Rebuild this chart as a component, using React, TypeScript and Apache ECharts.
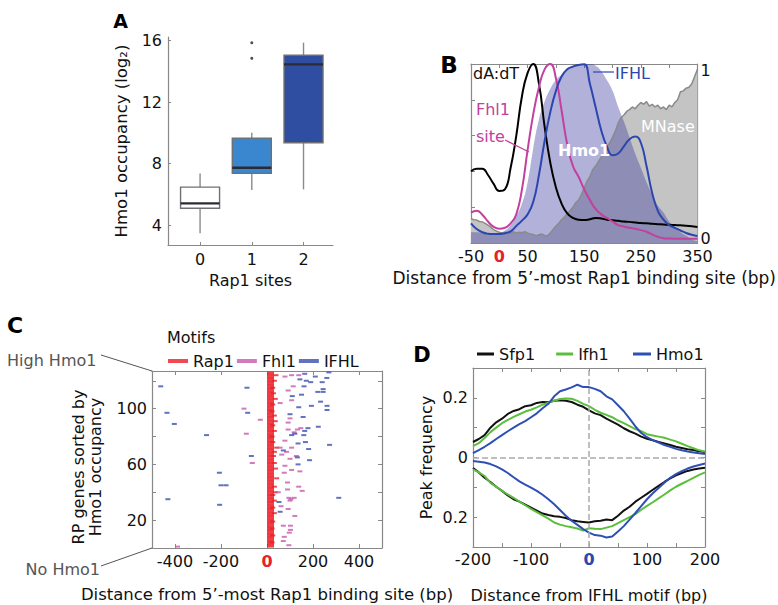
import React, { useEffect, useRef } from 'react';
import * as echarts from 'echarts';

const F = 'DejaVu Sans';

// ---------- Panel A: box plot ----------
const rap1SiteCounts = [0, 1, 2];
const boxMin = [3.46, 6.28, 6.32];
const boxQ1 = [5.09, 7.36, 9.36];
const boxMedian = [5.41, 7.73, 14.46];
const boxQ3 = [6.47, 9.66, 15.05];
const boxMax = [7.36, 10.01, 15.87];
const boxOutliers = [[1, 15.87], [1, 14.85]];
const boxColors = ['#ffffff', '#3b87cf', '#2f4ea2'];
const aYTicks = [4, 8, 12, 16];

// ---------- Panel B: profiles ----------
const bPos = [-50, -40, -30, -20, -10, 0, 10, 20, 30, 40, 50, 60, 70, 80, 90, 100, 110, 120, 130, 140, 150, 160, 170, 180, 190, 200, 210, 220, 230, 240, 250, 260, 270, 280, 290, 300, 310, 320, 330, 340, 350];
const dAdT = [0.40, 0.415, 0.415, 0.38, 0.33, 0.29, 0.30, 0.42, 0.60, 0.82, 0.95, 1.0, 0.89, 0.65, 0.45, 0.31, 0.22, 0.165, 0.14, 0.13, 0.128, 0.133, 0.14, 0.137, 0.13, 0.127, 0.124, 0.12, 0.118, 0.115, 0.112, 0.11, 0.107, 0.105, 0.103, 0.102, 0.1, 0.099, 0.096, 0.093, 0.09];
const fhl1Site = [0.17, 0.18, 0.158, 0.12, 0.09, 0.08, 0.085, 0.11, 0.16, 0.30, 0.52, 0.72, 0.87, 0.97, 1.0, 0.92, 0.74, 0.55, 0.43, 0.37, 0.30, 0.24, 0.19, 0.16, 0.14, 0.12, 0.10, 0.092, 0.085, 0.08, 0.072, 0.063, 0.048, 0.034, 0.027, 0.025, 0.024, 0.024, 0.024, 0.024, 0.024];
const ifhlSite = [0.11, 0.078, 0.06, 0.052, 0.05, 0.05, 0.055, 0.065, 0.095, 0.125, 0.16, 0.23, 0.38, 0.57, 0.73, 0.85, 0.93, 0.97, 0.985, 0.995, 0.998, 0.89, 0.76, 0.63, 0.54, 0.49, 0.5, 0.54, 0.58, 0.595, 0.56, 0.43, 0.28, 0.18, 0.13, 0.1, 0.085, 0.07, 0.056, 0.046, 0.039];
const hmo1Occupancy = [0.06, 0.06, 0.055, 0.05, 0.05, 0.055, 0.07, 0.1, 0.15, 0.22, 0.34, 0.53, 0.69, 0.79, 0.86, 0.91, 0.94, 0.97, 0.99, 1.0, 1.0, 1.0, 0.99, 0.96, 0.91, 0.85, 0.76, 0.68, 0.59, 0.5, 0.42, 0.34, 0.27, 0.21, 0.17, 0.12, 0.09, 0.06, 0.04, 0.02, 0.01];
const mnaseSignal = [
  [-50, 0.135], [-45, 0.13], [-40, 0.128], [-35, 0.12], [-30, 0.118], [-25, 0.11], [-20, 0.1], [-15, 0.088], [-10, 0.075], [-5, 0.066],
  [0, 0.06], [5, 0.055], [10, 0.061], [15, 0.052], [20, 0.058], [25, 0.063], [30, 0.055], [35, 0.06], [40, 0.057], [45, 0.063],
  [50, 0.055], [55, 0.05], [60, 0.048], [65, 0.04], [70, 0.046], [75, 0.05], [80, 0.042], [85, 0.04], [90, 0.055], [95, 0.075],
  [100, 0.095], [105, 0.11], [110, 0.13], [115, 0.145], [120, 0.162], [125, 0.18], [130, 0.2], [135, 0.225], [140, 0.24], [145, 0.27],
  [150, 0.31], [155, 0.345], [160, 0.37], [165, 0.41], [170, 0.43], [175, 0.455], [180, 0.48], [185, 0.5], [190, 0.535], [195, 0.56],
  [200, 0.59], [205, 0.625], [210, 0.67], [215, 0.7], [220, 0.715], [225, 0.735], [230, 0.745], [235, 0.76], [240, 0.75], [245, 0.77],
  [250, 0.785], [255, 0.775], [260, 0.79], [265, 0.765], [270, 0.775], [275, 0.76], [280, 0.77], [285, 0.75], [290, 0.76], [295, 0.745],
  [300, 0.77], [305, 0.76], [310, 0.785], [315, 0.8], [320, 0.845], [325, 0.85], [330, 0.865], [335, 0.87], [340, 0.89], [345, 0.93], [350, 0.97]
];
const bXLabels = [-50, 0, 50, 150, 250, 350];

// ---------- Panel C: motif map ----------
const rpGeneCount = 126;
const rap1FirstSite = 0;
const rap1Extra = [[39, 124], [32, 120], [25, 115], [28, 111], [36, 107], [25, 103], [22, 98], [32, 95], [36, 91], [25, 88], [32, 84], [22, 80], [25, 76], [42, 72], [32, 69], [28, 66], [32, 61], [37, 57], [42, 50], [32, 44], [36, 40], [25, 38], [32, 34], [25, 29], [32, 25], [25, 19], [22, 14], [25, 9], [22, 4]];
const fhl1Motifs = [[-100, 100], [-29, 92], [-90, 82], [-64, 61], [-389, 1], [78, 123], [107, 124], [138, 124], [114, 116], [92, 113], [107, 106], [57, 104], [100, 93], [92, 90], [147, 86], [132, 85], [92, 85], [118, 83], [78, 77], [57, 72], [107, 72], [85, 69], [128, 66], [100, 64], [64, 67], [78, 59], [107, 56], [143, 55], [75, 54], [89, 47], [138, 44], [89, 42], [153, 41], [49, 40], [95, 36], [118, 36], [104, 35], [100, 34], [61, 30], [92, 28], [121, 23], [71, 16], [102, 16], [102, 13], [97, 11], [75, 8], [71, 5], [95, 2]];
const ifhlMotifs = [[-462, 116], [-87, 115], [-435, 97], [-84, 97], [-403, 89], [-263, 81], [-68, 66], [-207, 54], [-200, 45], [-178, 45], [-431, 35], [-206, 31], [164, 125], [269, 126], [143, 121], [171, 120], [210, 123], [260, 122], [240, 119], [190, 119], [161, 116], [221, 112], [244, 112], [244, 114], [110, 109], [150, 110], [233, 105], [261, 102], [261, 99], [138, 101], [193, 102], [100, 96], [157, 94], [178, 86], [223, 87], [164, 84], [107, 81], [121, 82], [160, 81], [135, 75], [167, 76], [272, 74], [71, 70], [181, 71], [185, 63], [132, 65], [135, 60], [312, 36], [52, 33], [57, 26]];
const cXTicks = [-400, -200, 0, 200, 400];
const cYLabels = [20, 60, 100];

// ---------- Panel D: peak frequency ----------
const dPos = [-200, -190, -180, -170, -160, -150, -140, -130, -120, -110, -100, -90, -80, -70, -60, -50, -40, -30, -20, -10, 0, 10, 20, 30, 40, 50, 60, 70, 80, 90, 100, 110, 120, 130, 140, 150, 160, 170, 180, 190, 200];
const sfp1Up = [0.052, 0.062, 0.075, 0.1, 0.118, 0.13, 0.146, 0.156, 0.162, 0.172, 0.175, 0.183, 0.186, 0.185, 0.19, 0.192, 0.19, 0.186, 0.177, 0.17, 0.158, 0.148, 0.142, 0.13, 0.12, 0.11, 0.098, 0.088, 0.08, 0.07, 0.063, 0.058, 0.052, 0.047, 0.042, 0.036, 0.032, 0.028, 0.025, 0.021, 0.018];
const ifh1Up = [0.038, 0.048, 0.065, 0.085, 0.1, 0.115, 0.126, 0.136, 0.145, 0.154, 0.16, 0.168, 0.177, 0.184, 0.19, 0.196, 0.198, 0.197, 0.19, 0.18, 0.172, 0.16, 0.15, 0.143, 0.135, 0.124, 0.115, 0.105, 0.095, 0.088, 0.078, 0.074, 0.07, 0.066, 0.06, 0.054, 0.046, 0.038, 0.031, 0.024, 0.02];
const hmo1Up = [0.015, 0.025, 0.036, 0.048, 0.062, 0.075, 0.088, 0.1, 0.112, 0.122, 0.135, 0.148, 0.165, 0.18, 0.205, 0.222, 0.228, 0.235, 0.244, 0.236, 0.236, 0.23, 0.222, 0.205, 0.195, 0.175, 0.155, 0.13, 0.104, 0.082, 0.068, 0.058, 0.05, 0.042, 0.036, 0.029, 0.024, 0.02, 0.017, 0.014, 0.012];
const sfp1Down = [-0.035, -0.05, -0.068, -0.082, -0.098, -0.112, -0.127, -0.14, -0.148, -0.158, -0.168, -0.178, -0.188, -0.193, -0.197, -0.199, -0.203, -0.21, -0.214, -0.216, -0.218, -0.214, -0.212, -0.208, -0.21, -0.195, -0.178, -0.165, -0.148, -0.135, -0.122, -0.108, -0.095, -0.082, -0.07, -0.06, -0.052, -0.045, -0.04, -0.037, -0.034];
const ifh1Down = [-0.04, -0.05, -0.062, -0.085, -0.098, -0.112, -0.124, -0.135, -0.148, -0.16, -0.172, -0.183, -0.194, -0.205, -0.218, -0.225, -0.23, -0.234, -0.238, -0.245, -0.237, -0.239, -0.24, -0.235, -0.23, -0.22, -0.21, -0.2, -0.19, -0.175, -0.162, -0.15, -0.137, -0.124, -0.11, -0.098, -0.088, -0.078, -0.068, -0.058, -0.05];
const hmo1Down = [-0.012, -0.014, -0.017, -0.022, -0.03, -0.04, -0.052, -0.066, -0.08, -0.091, -0.101, -0.112, -0.125, -0.14, -0.157, -0.176, -0.195, -0.212, -0.226, -0.24, -0.252, -0.26, -0.262, -0.268, -0.265, -0.248, -0.23, -0.208, -0.186, -0.163, -0.14, -0.12, -0.102, -0.085, -0.068, -0.056, -0.046, -0.037, -0.03, -0.025, -0.02];
const dXLabels = [-200, -100, 0, 100, 200];
const dYLabels = [-0.2, 0, 0.2];

const zip = (xs: number[], ys: number[]) => xs.map((x, i) => [x, ys[i]]);

const FRAME = '#888';
const TXT = '#111';
const labelStyle = { color: TXT, fontSize: 16, fontFamily: F };
const nameStyle = { color: TXT, fontSize: 16, fontFamily: F };
const frameLine = { show: true, onZero: false, lineStyle: { color: FRAME, width: 1.2 } };
const tick = (extra: any = {}) => ({ show: true, inside: true, length: 4, lineStyle: { color: FRAME, width: 1 }, ...extra });
const noLabel = { show: false };
const zeroRich = (color: string) => ({
  ...labelStyle,
  formatter: (v: number) => (v === 0 ? '{z|0}' : String(v)),
  rich: { z: { color, fontWeight: 'bold', fontSize: 16, fontFamily: F } },
});

function buildOption() {
  const renderBox = (params: any, api: any) => {
    const x = api.value(0);
    const pLo = api.coord([x, api.value(1)]);
    const pQ1 = api.coord([x, api.value(2)]);
    const pMed = api.coord([x, api.value(3)]);
    const pQ3 = api.coord([x, api.value(4)]);
    const pHi = api.coord([x, api.value(5)]);
    const w = 39;
    return {
      type: 'group',
      children: [
        { type: 'line', shape: { x1: pLo[0], y1: pLo[1], x2: pQ1[0], y2: pQ1[1] }, style: { stroke: '#8a8a8a', lineWidth: 1.4 } },
        { type: 'line', shape: { x1: pQ3[0], y1: pQ3[1], x2: pHi[0], y2: pHi[1] }, style: { stroke: '#8a8a8a', lineWidth: 1.4 } },
        { type: 'rect', shape: { x: pQ1[0] - w / 2, y: pQ3[1], width: w, height: pQ1[1] - pQ3[1] }, style: { fill: boxColors[params.dataIndex], stroke: '#707070', lineWidth: 1.4 } },
        { type: 'line', shape: { x1: pMed[0] - w / 2, y1: pMed[1], x2: pMed[0] + w / 2, y2: pMed[1] }, style: { stroke: '#2b2b33', lineWidth: 2.4 } },
      ],
    };
  };

  const rap1Rows: number[][] = [];
  for (let r = 1; r <= rpGeneCount; r++) rap1Rows.push([rap1FirstSite, r]);

  const T = (text: string, x: number, y: number, s: any = {}, extra: any = {}) => ({
    type: 'text', x, y, z: 100, ...extra,
    style: { text, fontSize: 16, fontFamily: F, fill: TXT, align: 'left', verticalAlign: 'middle', ...s },
  });
  const L = (x1: number, y1: number, x2: number, y2: number, stroke: string, lineWidth = 1.2) => ({
    type: 'line', z: 100, shape: { x1, y1, x2, y2 }, style: { stroke, lineWidth },
  });

  const MAG = '#c3409e';
  const BLU = '#2c46b0';
  const legendText = { fontSize: 16, fontFamily: F, color: TXT };

  return {
    animation: false,
    textStyle: { fontFamily: F },
    grid: [
      { left: 168, top: 37, width: 165, height: 208 },
      { left: 471, top: 64, width: 232, height: 179 },
      { left: 152, top: 371, width: 230, height: 177 },
      { left: 473, top: 368, width: 232, height: 179 },
    ],
    xAxis: [
      { gridIndex: 0, type: 'value', min: -0.62, max: 2.57, axisLine: frameLine, axisTick: tick({ length: 3, customValues: rap1SiteCounts }), axisLabel: { ...labelStyle, margin: 6, customValues: rap1SiteCounts }, splitLine: { show: false }, name: 'Rap1 sites', nameLocation: 'middle', nameGap: 27, nameTextStyle: nameStyle },
      { gridIndex: 1, type: 'value', min: -50, max: 350, interval: 50, axisLine: frameLine, axisTick: tick(), axisLabel: { ...zeroRich('#e8202a'), margin: 5, customValues: bXLabels }, splitLine: { show: false }, name: 'Distance from 5’-most Rap1 binding site (bp)', nameLocation: 'middle', nameGap: 26, nameTextStyle: { ...nameStyle, fontSize: 17 } },
      { gridIndex: 1, type: 'value', position: 'top', min: -50, max: 350, interval: 50, axisLine: frameLine, axisTick: tick(), axisLabel: noLabel, splitLine: { show: false } },
      { gridIndex: 2, type: 'value', min: -500, max: 500, axisLine: frameLine, axisTick: tick({ customValues: cXTicks }), axisLabel: { ...zeroRich('#e8202a'), margin: 5, customValues: cXTicks }, splitLine: { show: false }, name: 'Distance from 5’-most Rap1 binding site (bp)', nameLocation: 'middle', nameGap: 38, nameTextStyle: { ...nameStyle, fontSize: 16.5 } },
      { gridIndex: 2, type: 'value', position: 'top', min: -500, max: 500, axisLine: frameLine, axisTick: tick({ customValues: cXTicks }), axisLabel: noLabel, splitLine: { show: false } },
      { gridIndex: 3, type: 'value', min: -200, max: 200, interval: 50, axisLine: frameLine, axisTick: tick(), axisLabel: { ...zeroRich('#2c46b0'), margin: 4, customValues: dXLabels }, splitLine: { show: false }, name: 'Distance from IFHL motif (bp)', nameLocation: 'middle', nameGap: 40, nameTextStyle: nameStyle },
      { gridIndex: 3, type: 'value', position: 'top', min: -200, max: 200, interval: 50, axisLine: frameLine, axisTick: tick(), axisLabel: noLabel, splitLine: { show: false } },
    ],
    yAxis: [
      { gridIndex: 0, type: 'value', min: 2.7, max: 16.24, axisLine: frameLine, axisTick: tick({ length: 3, customValues: aYTicks }), axisLabel: { ...labelStyle, margin: 6, customValues: aYTicks }, splitLine: { show: false }, name: 'Hmo1 occupancy (log₂)', nameLocation: 'middle', nameGap: 38, nameRotate: 90, nameTextStyle: { ...nameStyle, fontSize: 16.5 } },
      { gridIndex: 1, type: 'value', min: 0, max: 1, interval: 0.2, axisLine: frameLine, axisTick: tick(), axisLabel: noLabel, splitLine: { show: false } },
      { gridIndex: 1, type: 'value', position: 'right', min: 0, max: 1, interval: 0.2, axisLine: frameLine, axisTick: tick(), axisLabel: noLabel, splitLine: { show: false } },
      { gridIndex: 1, type: 'value', position: 'right', min: -0.025, max: 1.04, axisLine: { show: false }, axisTick: { show: false }, axisLabel: { ...labelStyle, margin: 3, customValues: [0, 1] }, splitLine: { show: false } },
      { gridIndex: 2, type: 'value', min: 0, max: 127, interval: 20, axisLine: frameLine, axisTick: tick(), axisLabel: { ...labelStyle, margin: 5, customValues: cYLabels }, splitLine: { show: false } },
      { gridIndex: 2, type: 'value', position: 'right', min: 0, max: 127, interval: 20, axisLine: frameLine, axisTick: tick(), axisLabel: noLabel, splitLine: { show: false } },
      { gridIndex: 3, type: 'value', min: -0.3, max: 0.3, interval: 0.1, axisLine: frameLine, axisTick: tick(), axisLabel: { ...labelStyle, margin: 5, customValues: dYLabels, formatter: (v: number) => (Math.abs(v) < 1e-9 ? '0' : String(Math.round(Math.abs(v) * 10) / 10)) }, splitLine: { show: false }, name: 'Peak frequency', nameLocation: 'middle', nameGap: 39, nameRotate: 90, nameTextStyle: nameStyle },
      { gridIndex: 3, type: 'value', position: 'right', min: -0.3, max: 0.3, interval: 0.1, axisLine: frameLine, axisTick: tick(), axisLabel: noLabel, splitLine: { show: false } },
    ],
    legend: [
      { data: ['Rap1', 'Fhl1', 'IFHL'], left: 168, top: 353, padding: 0, icon: 'rect', itemWidth: 20, itemHeight: 4, itemGap: 3, selectedMode: false, textStyle: legendText },
      { data: ['Sfp1', 'Ifh1'], left: 477, top: 346, padding: 0, icon: 'rect', itemWidth: 17, itemHeight: 3, itemGap: 21, selectedMode: false, textStyle: legendText },
      { data: ['Hmo1'], left: 633, top: 346, padding: 0, icon: 'rect', itemWidth: 18, itemHeight: 3, selectedMode: false, textStyle: legendText },
    ],
    graphic: [
      T('A', 120.5, 21, { fontWeight: 'bold', fontSize: 19, align: 'center', fill: '#000' }),
      T('B', 449, 64.5, { fontWeight: 'bold', fontSize: 23, align: 'center', fill: '#000' }),
      T('C', 15, 325, { fontWeight: 'bold', fontSize: 22, align: 'center', fill: '#000' }),
      T('D', 422, 355, { fontWeight: 'bold', fontSize: 21, align: 'center', fill: '#000' }),
      T('dA:dT', 473, 73),
      T('Fhl1', 476, 109, { fill: MAG }),
      T('site', 476, 136, { fill: MAG }),
      L(505, 140, 529, 152, MAG),
      T('IFHL', 615, 73, { fill: BLU }),
      L(593, 72, 614, 72, BLU),
      T('MNase', 641, 126, { fill: '#ffffff' }),
      T('Hmo1', 558, 150, { fill: '#ffffff', fontWeight: 'bold' }),
      T('Motifs', 167, 337),
      T('High Hmo1', 7, 360, { fill: '#555' }),
      L(101, 355, 152, 371, '#555', 1),
      T('No Hmo1', 100, 569, { fill: '#555', align: 'right' }),
      L(101, 566, 152, 548, '#555', 1),
      T('RP genes sorted by\nHmo1 occupancy', 87, 467, { align: 'center', lineHeight: 17 }, { rotation: Math.PI / 2 }),
    ],
    series: [
      // A
      { type: 'custom', name: 'boxes', xAxisIndex: 0, yAxisIndex: 0, renderItem: renderBox, encode: { x: 0, y: [1, 2, 3, 4, 5] },
        data: rap1SiteCounts.map((c, i) => [c, boxMin[i], boxQ1[i], boxMedian[i], boxQ3[i], boxMax[i]]) },
      { type: 'scatter', name: 'outliers', xAxisIndex: 0, yAxisIndex: 0, symbolSize: 3, itemStyle: { color: '#222' }, data: boxOutliers },
      // B
      { type: 'line', name: 'B MNase', xAxisIndex: 1, yAxisIndex: 1, showSymbol: false, data: mnaseSignal, lineStyle: { color: '#8a8a8a', width: 1.5 }, areaStyle: { color: '#c4c4c4', opacity: 1 } },
      { type: 'line', name: 'B Hmo1', xAxisIndex: 1, yAxisIndex: 1, showSymbol: false, smooth: true, data: zip(bPos, hmo1Occupancy), lineStyle: { width: 0 }, areaStyle: { color: 'rgba(60,60,160,0.4)', opacity: 1 } },
      { type: 'line', name: 'B dA:dT', xAxisIndex: 1, yAxisIndex: 1, showSymbol: false, smooth: true, data: zip(bPos, dAdT), lineStyle: { color: '#000', width: 2 } },
      { type: 'line', name: 'B Fhl1', xAxisIndex: 1, yAxisIndex: 1, showSymbol: false, smooth: true, data: zip(bPos, fhl1Site), lineStyle: { color: MAG, width: 2 } },
      { type: 'line', name: 'B IFHL', xAxisIndex: 1, yAxisIndex: 1, showSymbol: false, smooth: true, data: zip(bPos, ifhlSite), lineStyle: { color: BLU, width: 2 } },
      // C
      { type: 'scatter', name: 'Rap1', xAxisIndex: 3, yAxisIndex: 4, symbol: 'rect', symbolSize: [7, 2], symbolOffset: [3.5, 0], color: '#ee1c25', itemStyle: { color: '#ee1c25' }, data: rap1Rows },
      { type: 'scatter', name: 'Rap1', xAxisIndex: 3, yAxisIndex: 4, symbol: 'rect', symbolSize: [5, 2], color: '#ee1c25', itemStyle: { color: '#ee1c25' }, data: rap1Extra },
      { type: 'scatter', name: 'Fhl1', xAxisIndex: 3, yAxisIndex: 4, symbol: 'rect', symbolSize: [5, 2], color: '#c65aaa', itemStyle: { color: '#c65aaa' }, data: fhl1Motifs },
      { type: 'scatter', name: 'IFHL', xAxisIndex: 3, yAxisIndex: 4, symbol: 'rect', symbolSize: [5, 2], color: '#3a4fae', itemStyle: { color: '#3a4fae' }, data: ifhlMotifs },
      // D
      { type: 'line', name: 'Sfp1', xAxisIndex: 5, yAxisIndex: 6, showSymbol: false, color: '#111', data: zip(dPos, sfp1Up), lineStyle: { color: '#111', width: 2 },
        markLine: { silent: true, symbol: ['none', 'none'], label: { show: false }, lineStyle: { color: '#aaa', type: 'dashed', width: 1.5 }, data: [{ xAxis: 0 }, { yAxis: 0 }] } },
      { type: 'line', name: 'Ifh1', xAxisIndex: 5, yAxisIndex: 6, showSymbol: false, color: '#5cbf3c', data: zip(dPos, ifh1Up), lineStyle: { color: '#5cbf3c', width: 2 } },
      { type: 'line', name: 'Hmo1', xAxisIndex: 5, yAxisIndex: 6, showSymbol: false, color: '#2f4fb5', data: zip(dPos, hmo1Up), lineStyle: { color: '#2f4fb5', width: 2 } },
      { type: 'line', name: 'Sfp1', xAxisIndex: 5, yAxisIndex: 6, showSymbol: false, color: '#111', data: zip(dPos, sfp1Down), lineStyle: { color: '#111', width: 2 } },
      { type: 'line', name: 'Ifh1', xAxisIndex: 5, yAxisIndex: 6, showSymbol: false, color: '#5cbf3c', data: zip(dPos, ifh1Down), lineStyle: { color: '#5cbf3c', width: 2 } },
      { type: 'line', name: 'Hmo1', xAxisIndex: 5, yAxisIndex: 6, showSymbol: false, color: '#2f4fb5', data: zip(dPos, hmo1Down), lineStyle: { color: '#2f4fb5', width: 2 } },
    ],
  };
}

export default function App() {
  const ref = useRef<HTMLDivElement>(null);
  useEffect(() => {
    if (!ref.current) return;
    const chart = echarts.init(ref.current, undefined, { renderer: 'svg' });
    chart.setOption(buildOption() as any);
    return () => chart.dispose();
  }, []);
  return <div ref={ref} style={{ position: 'absolute', left: 0, top: 0, width: 778, height: 605, background: '#fff' }} />;
}
